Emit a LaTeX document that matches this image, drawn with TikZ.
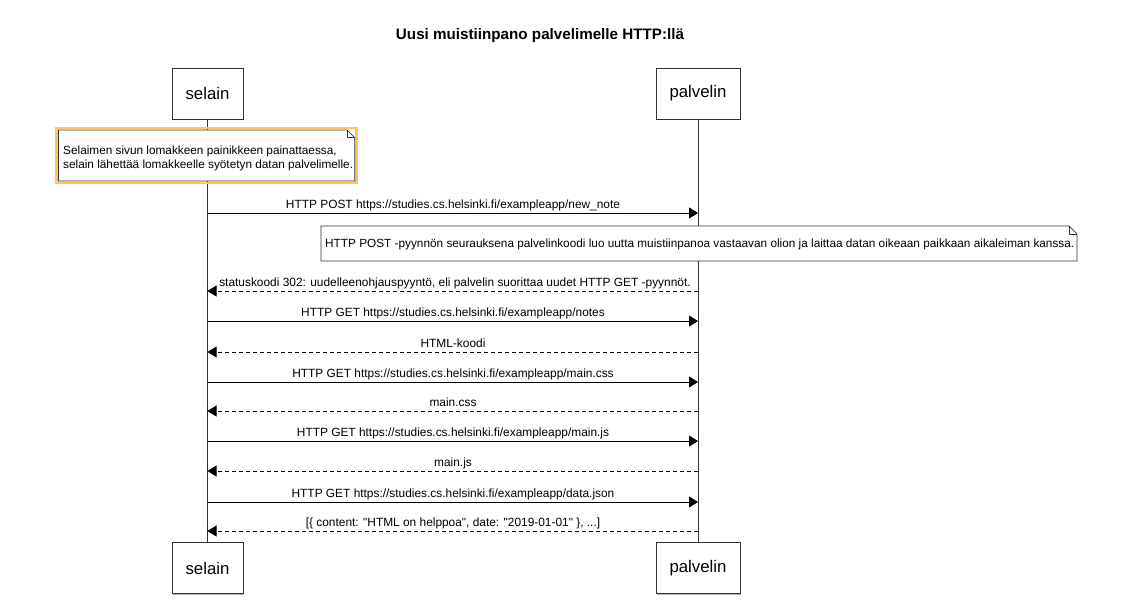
\documentclass[tikz,border=0pt]{standalone}
\usepackage{fontspec}
\setmainfont{Liberation Sans}
\usetikzlibrary{arrows.meta,shadows}
\definecolor{lineC}{HTML}{333333}
\definecolor{hilite}{RGB}{252,196,100}
\begin{document}
\begin{tikzpicture}[x=1pt,y=-1pt,
  actor/.style={draw=lineC, fill=white, line width=0.8pt, inner sep=0pt,
    minimum height=51pt, font=\fontsize{16.8}{20}\selectfont,
    drop shadow={shadow xshift=1pt, shadow yshift=-1pt, opacity=0.3, fill=black}},
  lifeline/.style={draw=lineC, line width=0.8pt},
  notebox/.style={draw=lineC, fill=white, line width=0.7pt, line join=miter},
  msgarrow/.style={draw=black, line width=0.8pt, -{Triangle[length=9pt,width=11pt]}},
  replyarrow/.style={msgarrow, dash pattern=on 4pt off 3pt},
  msglabel/.style={font=\fontsize{11.9}{14}\selectfont, anchor=base, inner sep=0pt},
  notetext/.style={font=\fontsize{11.8}{13.5}\selectfont, inner sep=0pt, align=left}]
\useasboundingbox[fill=white] (0,0) rectangle (1126,601);

% title
\node[font=\bfseries\fontsize{15.2}{18}\selectfont] (title) at (540,36) {Uusi muistiinpano palvelimelle HTTP:llä};

% actors
\node[actor, minimum width=71pt] (selT) at (207.5,93.5) {selain};
\node[actor, minimum width=84pt] (palT) at (698,93.5) {palvelin};
\node[actor, minimum width=71pt] (selB) at (207.5,568) {selain};
\node[actor, minimum width=84pt] (palB) at (698,568) {palvelin};

% lifelines
\draw[lifeline] (selT.south) -- (selB.north);
\draw[lifeline] (palT.south) -- (palB.north);

% left note (highlighted)
\draw[hilite, line width=2.6pt] (56.5,128.2) rectangle (356.6,183);
\draw[notebox] (58.5,130) -- (347,130) -- (354.8,137.8) -- (354.8,181) -- (58.5,181) -- cycle;
\draw[notebox, fill=none] (347,130) -- (347,137.8) -- (354.8,137.8);
\node[notetext, anchor=west] (noteL) at (63,158.5) {Selaimen sivun lomakkeen painikkeen painattaessa,\\selain lähettää lomakkeelle syötetyn datan palvelimelle.};

% coordinates on lifelines
\foreach \i/\y in {1/213,2/291,3/321,4/352,5/382,6/411,7/441,8/471,9/502,10/531}{
  \coordinate (s\i) at (207.5,\y);
  \coordinate (p\i) at (698,\y);
}

% message 1
\draw[msgarrow] (s1) -- (p1);
\node[msglabel] (l1) at (453,208.5) {HTTP POST https://studies.cs.helsinki.fi/exampleapp/new\_note};

% right note
\draw[notebox] (321,226) -- (1069,226) -- (1077,234) -- (1077,261) -- (321,261) -- cycle;
\draw[notebox, fill=none] (1069,226) -- (1069,234) -- (1077,234);
\node[notetext, anchor=west] (noteR) at (325,244.5) {HTTP POST -pyynnön seurauksena palvelinkoodi luo uutta muistiinpanoa vastaavan olion ja laittaa datan oikeaan paikkaan aikaleiman kanssa.};

% messages
\draw[replyarrow] (p2) -- (s2);
\node[msglabel] (l2) at (455,286.5) {statuskoodi 302: uudelleenohjauspyyntö, eli palvelin suorittaa uudet HTTP GET -pyynnöt.};
\draw[msgarrow] (s3) -- (p3);
\node[msglabel] (l3) at (453,316.5) {HTTP GET https://studies.cs.helsinki.fi/exampleapp/notes};
\draw[replyarrow] (p4) -- (s4);
\node[msglabel] (l4) at (453,347.5) {HTML-koodi};
\draw[msgarrow] (s5) -- (p5);
\node[msglabel] (l5) at (453,377.5) {HTTP GET https://studies.cs.helsinki.fi/exampleapp/main.css};
\draw[replyarrow] (p6) -- (s6);
\node[msglabel] (l6) at (453,406.5) {main.css};
\draw[msgarrow] (s7) -- (p7);
\node[msglabel] (l7) at (453,436.5) {HTTP GET https://studies.cs.helsinki.fi/exampleapp/main.js};
\draw[replyarrow] (p8) -- (s8);
\node[msglabel] (l8) at (453,466.5) {main.js};
\draw[msgarrow] (s9) -- (p9);
\node[msglabel] (l9) at (453,497.5) {HTTP GET https://studies.cs.helsinki.fi/exampleapp/data.json};
\draw[replyarrow] (p10) -- (s10);
\node[msglabel] (l10) at (453,526.5) {[\{ content: \textquotedbl HTML on helppoa\textquotedbl, date: \textquotedbl 2019-01-01\textquotedbl\ \}, ...]};
\end{tikzpicture}
\end{document}
